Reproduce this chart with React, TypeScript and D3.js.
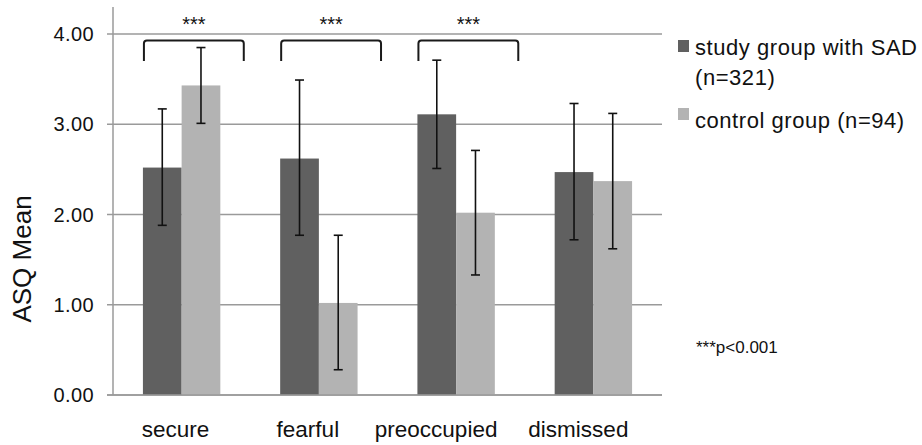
import React from "react";
import * as d3 from "d3";

const categories = ["secure", "fearful", "preoccupied", "dismissed"];
const seriesNames = ["study group with SAD (n=321)", "control group (n=94)"];
const studyMeans = [2.52, 2.62, 3.11, 2.47];
const studyLow = [1.88, 1.77, 2.51, 1.72];
const studyHigh = [3.17, 3.49, 3.71, 3.23];
const controlMeans = [3.43, 1.02, 2.02, 2.37];
const controlLow = [3.01, 0.28, 1.33, 1.62];
const controlHigh = [3.85, 1.77, 2.71, 3.12];
const yTicks = [0, 1, 2, 3, 4];
const significant = ["secure", "fearful", "preoccupied"];
const sigLabel = "***";
const pNote = "***p<0.001";
const yTitle = "ASQ Mean";

const W = 922;
const H = 445;
const plotLeft = 113;
const plotRight = 662;
const colors = ["#606060", "#b3b3b3"];
const gridColor = "#9a9a9a";
const textColor = "#111";
const font = "'Liberation Sans', Arial, sans-serif";
const labelShift = [-6, -11, -20, -15];

export default function App() {
  const y = d3.scaleLinear().domain([0, 4]).range([395, 34]);
  const x = d3
    .scaleBand<string>()
    .domain(categories)
    .range([plotLeft, plotRight])
    .paddingInner(0.436)
    .paddingOuter(0.218);
  const xs = d3.scaleBand<number>().domain([0, 1]).range([0, x.bandwidth()]);
  const bw = xs.bandwidth();

  const series = [
    { means: studyMeans, low: studyLow, high: studyHigh },
    { means: controlMeans, low: controlLow, high: controlHigh },
  ];

  const cap = 4.5;

  return (
    <svg
      width={W}
      height={H}
      style={{ position: "absolute", left: 0, top: 0, background: "#fff" }}
      fontFamily={font}
    >
      {yTicks.map((t) => (
        <g key={t}>
          <line
            x1={plotLeft - 6}
            x2={plotRight}
            y1={y(t)}
            y2={y(t)}
            stroke={gridColor}
            strokeWidth={1.5}
          />
          <text
            x={94}
            y={y(t)}
            dy="0.36em"
            textAnchor="end"
            fontSize={20}
            letterSpacing={0.4}
            fill={textColor}
          >
            {d3.format(".2f")(t)}
          </text>
        </g>
      ))}
      <line
        x1={plotLeft}
        x2={plotLeft}
        y1={y(4.3)}
        y2={y(0)}
        stroke={gridColor}
        strokeWidth={1.5}
      />
      {series.map((s, si) =>
        categories.map((c, ci) => (
          <rect
            key={`${si}-${c}`}
            x={(x(c) as number) + (xs(si) as number)}
            y={y(s.means[ci])}
            width={bw}
            height={y(0) - y(s.means[ci])}
            fill={colors[si]}
          />
        ))
      )}
      <line
        x1={plotLeft - 6}
        x2={plotRight}
        y1={y(0)}
        y2={y(0)}
        stroke={gridColor}
        strokeWidth={1.5}
      />
      {series.map((s, si) =>
        categories.map((c, ci) => {
          const cx = (x(c) as number) + (xs(si) as number) + bw / 2;
          return (
            <g key={`e-${si}-${c}`} stroke="#111" strokeWidth={1.6}>
              <line x1={cx} x2={cx} y1={y(s.high[ci])} y2={y(s.low[ci])} />
              <line x1={cx - cap} x2={cx + cap} y1={y(s.high[ci])} y2={y(s.high[ci])} />
              <line x1={cx - cap} x2={cx + cap} y1={y(s.low[ci])} y2={y(s.low[ci])} />
            </g>
          );
        })
      )}
      {significant.map((c) => {
        const x0 = (x(c) as number) + 1;
        const x1 = x0 + x.bandwidth() * 1.29;
        const top = 40.5;
        const bottom = 61;
        const r = 3;
        const path = `M${x0},${bottom} L${x0},${top + r} Q${x0},${top} ${x0 + r},${top} L${x1 - r},${top} Q${x1},${top} ${x1},${top + r} L${x1},${bottom}`;
        return (
          <g key={`b-${c}`}>
            <path d={path} fill="none" stroke="#1a1a1a" strokeWidth={2} />
            <text
              x={(x0 + x1) / 2}
              y={31}
              textAnchor="middle"
              fontSize={20}
              fill={textColor}
            >
              {sigLabel}
            </text>
          </g>
        );
      })}
      {categories.map((c, i) => (
        <text
          key={`l-${c}`}
          x={(x(c) as number) + x.bandwidth() / 2 + labelShift[i]}
          y={437}
          textAnchor="middle"
          fontSize={22.5}
          fill={textColor}
        >
          {c}
        </text>
      ))}
      <text
        transform={`translate(31, 259) rotate(-90)`}
        textAnchor="middle"
        fontSize={26}
        fill={textColor}
      >
        {yTitle}
      </text>
      <rect x={678} y={40} width={11} height={12} fill={colors[0]} />
      <text x={695} y={55} fontSize={22} letterSpacing={0.55} fill={textColor}>
        {seriesNames[0].split(" (")[0]}
      </text>
      <text x={695} y={85} fontSize={22} letterSpacing={0.55} fill={textColor}>
        {"(" + seriesNames[0].split(" (")[1]}
      </text>
      <rect x={678} y={108} width={11} height={12} fill={colors[1]} />
      <text x={695} y={128} fontSize={22} letterSpacing={0.55} fill={textColor}>
        {seriesNames[1]}
      </text>
      <text x={696} y={353} fontSize={17} fill={textColor}>
        {pNote}
      </text>
    </svg>
  );
}
